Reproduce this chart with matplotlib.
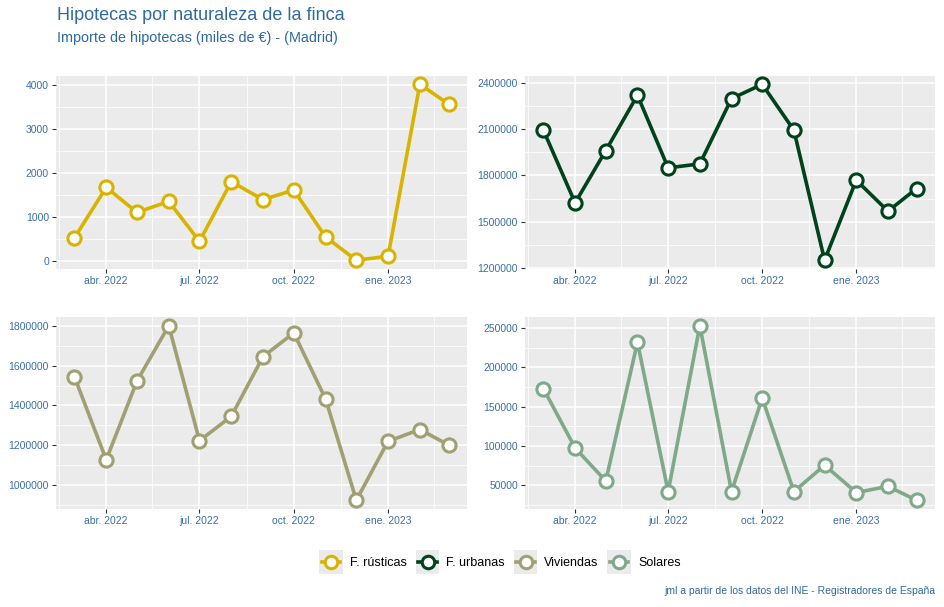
import datetime as dt

import matplotlib
matplotlib.use("Agg")
import matplotlib.pyplot as plt
import matplotlib.dates as mdates
from matplotlib.lines import Line2D
from matplotlib.patches import Rectangle
from matplotlib.legend_handler import HandlerBase
from matplotlib.ticker import MultipleLocator, FixedLocator, FuncFormatter

plt.rcParams["font.family"] = ["Liberation Sans", "DejaVu Sans"]

months = [dt.date(2022, m, 1) for m in range(3, 13)] + [dt.date(2023, m, 1) for m in range(1, 4)]

rusticas = [520, 1670, 1100, 1350, 440, 1800, 1390, 1610, 540, 10, 100, 4020, 3570]
urbanas = [2093000, 1622000, 1961000, 2320000, 1849000, 1875000, 2298000,
           2391000, 2093000, 1250000, 1769000, 1568000, 1715000]
viviendas = [1544000, 1127000, 1522000, 1800000, 1223000, 1345000, 1645000,
             1764000, 1433000, 924000, 1220000, 1279000, 1202000]
solares = [173000, 97500, 55500, 232000, 42000, 253000, 42000,
           161000, 42000, 75600, 40800, 48700, 31000]

names = ["F. rústicas", "F. urbanas", "Viviendas", "Solares"]
colors = ["#d8b400", "#00421e", "#a0a072", "#80a88b"]
series = [rusticas, urbanas, viviendas, solares]
y_major = [1000, 300000, 200000, 50000]

major_dates = [dt.date(2022, 4, 1), dt.date(2022, 7, 1), dt.date(2022, 10, 1), dt.date(2023, 1, 1)]
major_labels = ["abr. 2022", "jul. 2022", "oct. 2022", "ene. 2023"]
minor_dates = [dt.date(2022, 2, 14), dt.date(2022, 5, 16), dt.date(2022, 8, 16),
               dt.date(2022, 11, 16), dt.date(2023, 2, 15)]

tick_col = "#3a6ea8"
title_col = "#2f6aa0"


class KeyHandler(HandlerBase):
    # ggplot-like legend key: grey square, line across, hollow point in the middle
    def create_artists(self, legend, orig, xdescent, ydescent, width, height, fontsize, trans):
        col = orig.get_color()
        x0, y0 = -xdescent, -ydescent
        rect = Rectangle((x0, y0), width, height, facecolor="#ebebeb",
                         edgecolor="none", transform=trans)
        ln = Line2D([x0 + 2, x0 + width - 2], [y0 + height / 2] * 2, color=col,
                    lw=2.6, transform=trans)
        mk = Line2D([x0 + width / 2], [y0 + height / 2], marker="o", ms=9,
                    mfc="white", mec=col, mew=2.2, ls="none", transform=trans)
        return [rect, ln, mk]


fig = plt.figure(figsize=(9.44, 6.07), dpi=100)
W, H = 944, 607
boxes = [(56, 75.5, 467, 269), (525, 75.5, 935, 269),
         (56, 317, 467, 509), (525, 317, 935, 509)]

handles = []
for (x0, y0, x1, y1), vals, col, step in zip(boxes, series, colors, y_major):
    ax = fig.add_axes([x0 / W, 1 - y1 / H, (x1 - x0) / W, (y1 - y0) / H])
    ax.set_facecolor("#ebebeb")
    ln, = ax.plot(months, vals, color=col, lw=2.6, marker="o", ms=9.5,
                  mfc="white", mec=col, mew=2.2, zorder=3)
    handles.append(ln)
    ax.set_xlim(dt.date(2022, 3, 1) - dt.timedelta(days=18),
                dt.date(2023, 3, 1) + dt.timedelta(days=18))
    ax.margins(y=0.05)
    ax.xaxis.set_major_locator(FixedLocator(mdates.date2num(major_dates)))
    ax.set_xticklabels(major_labels)
    ax.xaxis.set_minor_locator(FixedLocator(mdates.date2num(minor_dates)))
    ax.yaxis.set_major_locator(MultipleLocator(step))
    ax.yaxis.set_minor_locator(MultipleLocator(step / 2))
    ax.yaxis.set_major_formatter(FuncFormatter(lambda v, p: f"{v:.0f}"))
    ax.grid(which="major", color="white", lw=1.1)
    ax.grid(which="minor", color="white", lw=0.55)
    ax.set_axisbelow(True)
    for s in ax.spines.values():
        s.set_visible(False)
    ax.tick_params(which="major", length=3, width=0.8, color="#333333",
                   labelsize=7.5, labelcolor=tick_col, pad=2)
    ax.tick_params(which="minor", length=0)

fig.text(57 / W, 1 - 15 / H, "Hipotecas por naturaleza de la finca",
         fontsize=13, color=title_col, va="center", ha="left")
fig.text(57 / W, 1 - 38 / H, "Importe de hipotecas (miles de €) - (Madrid)",
         fontsize=10.4, color=title_col, va="center", ha="left")

fig.legend(handles, names, loc="center", bbox_to_anchor=(500 / W, 1 - 562 / H),
           ncol=4, frameon=False, fontsize=9, handlelength=1.9, handleheight=2.6,
           handletextpad=0.55, columnspacing=0.7, borderpad=0,
           handler_map={Line2D: KeyHandler()})

fig.text(935 / W, 1 - 591 / H, "jml a partir de los datos del INE - Registradores de España",
         fontsize=7.5, color=title_col, ha="right", va="center")

fig.savefig("out.png", dpi=100)
